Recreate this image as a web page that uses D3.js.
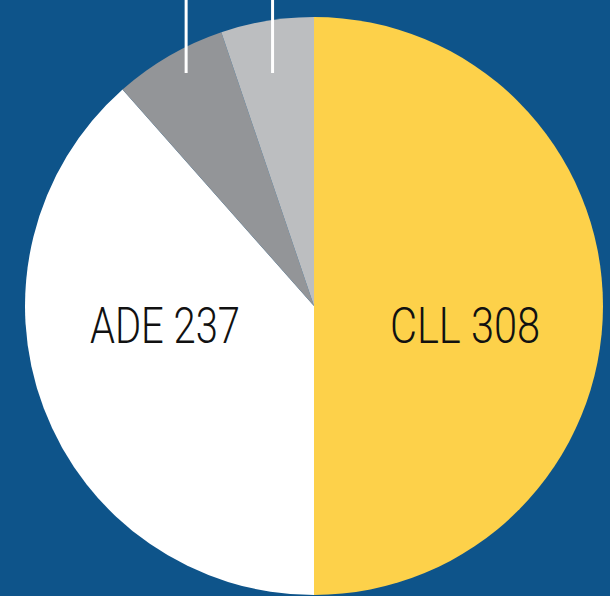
<!DOCTYPE html>
<html>
<head>
<meta charset="utf-8">
<script src="https://cdn.jsdelivr.net/npm/d3@7"></script>
<style>
  html, body { margin: 0; padding: 0; background: #0e548a; overflow: hidden; }
  svg { display: block; }
</style>
</head>
<body>
<div id="chart"></div>
<script>
const categories = ['CLL', 'ADE', 'Other A', 'Other B'],
      values = [308, 237, 39, 32],
      colors = ['#fdd14a', '#ffffff', '#939598', '#bcbec0'],
      showLabel = [true, true, false, false]

const SIZE = Object.freeze({
  WIDTH: 610,
  HEIGHT: 596,
  CX: 314,
  CY: 306,
  RADIUS: 289
})

const dataset = categories.map((c, i) => ({
  name: c,
  value: values[i],
  color: colors[i],
  label: showLabel[i]
}))

const pie = d3.pie()
  .value(d => d.value)
  .sort(null)

const arc = d3.arc()
  .innerRadius(0)
  .outerRadius(SIZE.RADIUS)

const leaderArc = d3.arc()
  .innerRadius(255)
  .outerRadius(255)

const svg = d3.select('#chart')
  .append('svg')
  .attr('width', SIZE.WIDTH)
  .attr('height', SIZE.HEIGHT)

svg.append('rect')
  .attr('width', SIZE.WIDTH)
  .attr('height', SIZE.HEIGHT)
  .attr('fill', '#0e548a')

const g = svg.append('g')
  .attr('transform', `translate(${SIZE.CX},${SIZE.CY})`)

const arcs = pie(dataset)

g.selectAll('path')
  .data(arcs)
  .enter()
  .append('path')
  .attr('d', arc)
  .attr('fill', d => d.data.color)

// leader lines for the small slices (their labels sit above the crop)
g.selectAll('line.leader')
  .data(arcs.filter(d => !d.data.label))
  .enter()
  .append('line')
  .attr('class', 'leader')
  .attr('x1', d => leaderArc.centroid(d)[0])
  .attr('x2', d => leaderArc.centroid(d)[0])
  .attr('y1', -SIZE.CY)
  .attr('y2', 73 - SIZE.CY)
  .attr('stroke', '#ffffff')
  .attr('stroke-width', 3)

g.selectAll('text.label')
  .data(arcs.filter(d => d.data.label))
  .enter()
  .append('text')
  .attr('class', 'label')
  .attr('x', d => Math.sin((d.startAngle + d.endAngle) / 2) > 0 ? 151 : -149)
  .attr('y', 37)
  .attr('text-anchor', 'middle')
  .attr('textLength', 150)
  .attr('lengthAdjust', 'spacingAndGlyphs')
  .style('font-family', 'Roboto, "Open Sans", sans-serif')
  .style('font-size', '50px')
  .style('font-weight', 300)
  .attr('fill', '#111111')
  .text(d => `${d.data.name} ${d.data.value}`)
</script>
</body>
</html>
